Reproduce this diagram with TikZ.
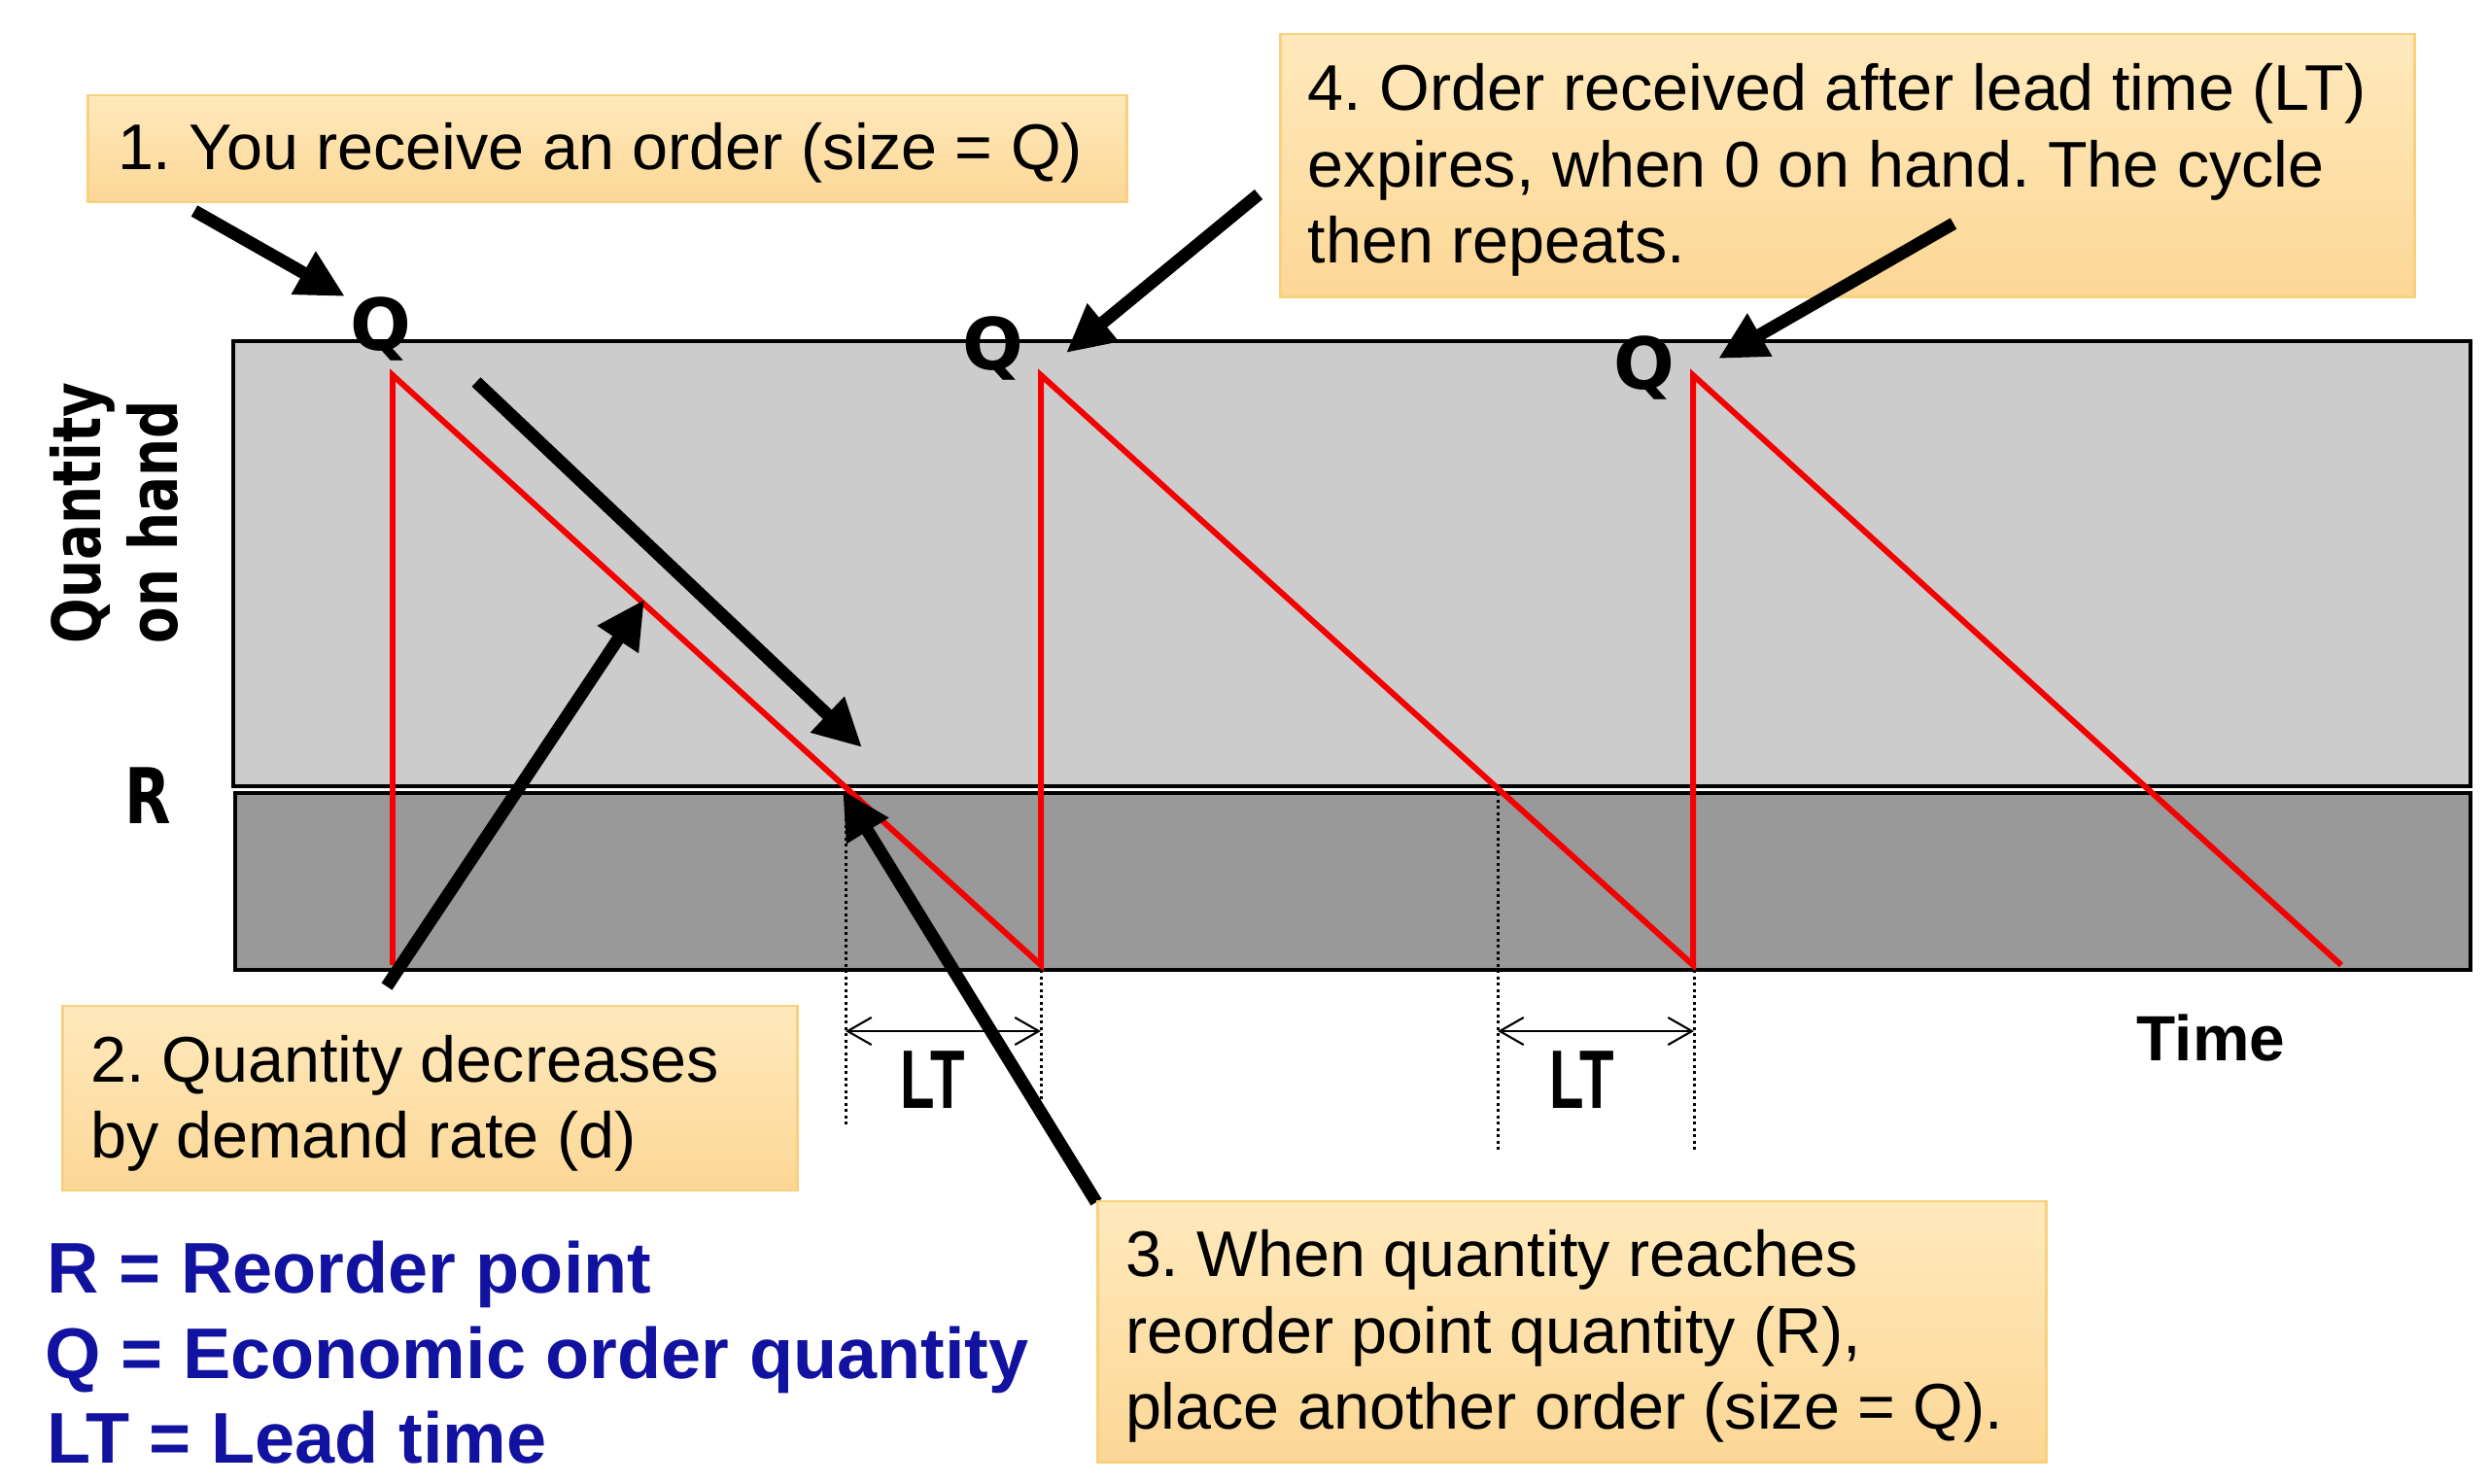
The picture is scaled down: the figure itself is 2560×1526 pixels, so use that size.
\documentclass[tikz,border=0pt]{standalone}
\usepackage{fontspec}
\setmainfont{Liberation Sans}
\newfontfamily\dvfont{DejaVu Sans}
\usetikzlibrary{arrows.meta}
\definecolor{boxtop}{RGB}{254,233,188}
\definecolor{boxbot}{RGB}{252,215,150}
\definecolor{boxline}{RGB}{249,208,125}
\definecolor{lgray}{RGB}{204,204,204}
\definecolor{dgray}{RGB}{153,153,153}
\definecolor{legblue}{RGB}{18,18,160}
\definecolor{sawred}{RGB}{245,0,0}
\begin{document}
\frenchspacing
\begin{tikzpicture}[x=0.01cm,y=0.01cm,
  notebox/.style={draw=boxline, line width=0.8pt, top color=boxtop, bottom color=boxbot,
    inner sep=0pt, anchor=center},
  notetext/.style={inner sep=0pt, align=left, anchor=west,
    font=\fontsize{18.9pt}{22.3pt}\selectfont\frenchspacing},
  bigarrow/.style={line width=3.7pt, -{Triangle[length=14pt,width=13.5pt]}},
  saw/.style={draw=sawred, line width=1.7pt},
  dots/.style={line width=0.85pt, dash pattern=on 0.85pt off 1pt},
  ltarrow/.style={line width=0.6pt, {Straight Barb[length=7pt,width=8pt]}-{Straight Barb[length=7pt,width=8pt]}},
  qlabel/.style={font=\dvfont\bfseries\fontsize{21pt}{25pt}\selectfont, inner sep=0pt, anchor=base},
  axlabel/.style={font=\dvfont\bfseries\fontsize{19.5pt}{23pt}\selectfont, inner sep=0pt, rotate=90, anchor=base west},
  ltlabel/.style={font=\bfseries\fontsize{24.3pt}{28pt}\selectfont, inner sep=0pt, anchor=base},
  legend/.style={font=\bfseries\fontsize{21pt}{25pt}\selectfont, text=legblue, inner sep=0pt, anchor=base west},
  bandlight/.style={draw=black, fill=lgray, line width=1.1pt},
  banddark/.style={draw=black, fill=dgray, line width=1.1pt}
]
\useasboundingbox (0,0) rectangle (2560,-1526);

% bands
\path[bandlight] (240,-351) rectangle (2542,-809);
\path[banddark] (242,-816) rectangle (2542,-998);

% sawtooth coordinates
\coordinate (b1) at (404,-993);
\coordinate (t1) at (404,-386);
\coordinate (b2) at (1071,-993);
\coordinate (t2) at (1071,-386);
\coordinate (b3) at (1742,-993);
\coordinate (t3) at (1742,-386);
\coordinate (e3) at (2409,-993);
\draw[saw] (b1) -- (t1) -- (b2) -- (t2) -- (b3) -- (t3) -- (e3);

% dotted guides
\coordinate (d1a) at (870,-816);  \coordinate (d1b) at (870,-1158);
\coordinate (d2a) at (1071,-998); \coordinate (d2b) at (1071,-1153);
\coordinate (d3a) at (1541,-816); \coordinate (d3b) at (1541,-1186);
\coordinate (d4a) at (1743,-998); \coordinate (d4b) at (1743,-1184);
\draw[dots] (d1a) -- (d1b);
\draw[dots] (d2a) -- (d2b);
\draw[dots] (d3a) -- (d3b);
\draw[dots] (d4a) -- (d4b);

% lead time arrows
\coordinate (l1a) at (870,-1061);  \coordinate (l1b) at (1071,-1061);
\coordinate (l2a) at (1541,-1061); \coordinate (l2b) at (1743,-1061);
\draw[ltarrow] (l1a) -- (l1b);
\draw[ltarrow] (l2a) -- (l2b);
\node[ltlabel] (lt1) at (960,-1140) {\scalebox{0.68}[1]{LT}};
\node[ltlabel] (lt2) at (1628,-1140) {\scalebox{0.68}[1]{LT}};

% axis labels
\node[axlabel] (qoh1) at (103,-663) {\scalebox{0.8}[1]{Quantity}};
\node[axlabel] (qoh2) at (182,-663) {\scalebox{0.8}[1]{on hand}};
\node[qlabel, font=\dvfont\bfseries\fontsize{22.5pt}{26pt}\selectfont] (rlab) at (152,-847) {\scalebox{0.78}[1]{R}};
\node[font=\bfseries\fontsize{18.7pt}{22pt}\selectfont, inner sep=0pt, anchor=base] (time) at (2275,-1091) {Time};

% Q labels
\node[qlabel] (q1) at (392,-360) {Q};
\node[qlabel] (q2) at (1022,-380) {Q};
\node[qlabel] (q3) at (1692,-400) {Q};

% note boxes 1, 4, 2
\node[notebox, minimum width=10.68cm, minimum height=1.10cm] (n1) at (625,-153) {};
\node[notetext] (n1t) at ([xshift=0.31cm,yshift=-0.04cm]n1.west)
  {1. You receive an order (size = Q)};
\node[notebox, minimum width=11.66cm, minimum height=2.70cm] (n4) at (1901,-170) {};
\node[notetext] (n4t) at ([xshift=0.29cm,yshift=-0.05cm]n4.west)
  {4. Order received after lead time (LT)\\expires, when 0 on hand. The cycle\\then repeats.};
\node[notebox, minimum width=7.55cm, minimum height=1.90cm] (n2) at (442.5,-1130) {};
\node[notetext] (n2t) at ([xshift=0.29cm,yshift=-0.05cm]n2.west)
  {2. Quantity decreases\\by demand rate (d)};

% big arrows
\coordinate (a1s) at (200,-217);  \coordinate (a1e) at (355,-305);
\coordinate (a2s) at (490,-393);  \coordinate (a2e) at (887,-769);
\coordinate (a3s) at (398,-1015); \coordinate (a3e) at (663,-617);
\coordinate (a4s) at (1128,-1237);\coordinate (a4e) at (867,-813);
\coordinate (a5s) at (1295,-200); \coordinate (a5e) at (1097,-363);
\coordinate (a6s) at (2010,-230); \coordinate (a6e) at (1768,-369);
\draw[bigarrow] (a1s) -- (a1e);
\draw[bigarrow] (a2s) -- (a2e);
\draw[bigarrow] (a3s) -- (a3e);
\draw[bigarrow] (a4s) -- (a4e);
\draw[bigarrow] (a5s) -- (a5e);
\draw[bigarrow] (a6s) -- (a6e);

% note box 3
\node[notebox, minimum width=9.75cm, minimum height=2.68cm] (n3) at (1617.5,-1370) {};
\node[notetext] (n3t) at ([xshift=0.29cm,yshift=-0.05cm]n3.west)
  {3. When quantity reaches\\reorder point quantity (R),\\place another order (size = Q).};

% legend
\node[legend] (leg1) at (48,-1330) {R = Reorder point};
\node[legend] (leg2) at (46,-1418) {Q = Economic order quantity};
\node[legend] (leg3) at (48,-1505) {LT = Lead time};
\end{tikzpicture}
\end{document}
